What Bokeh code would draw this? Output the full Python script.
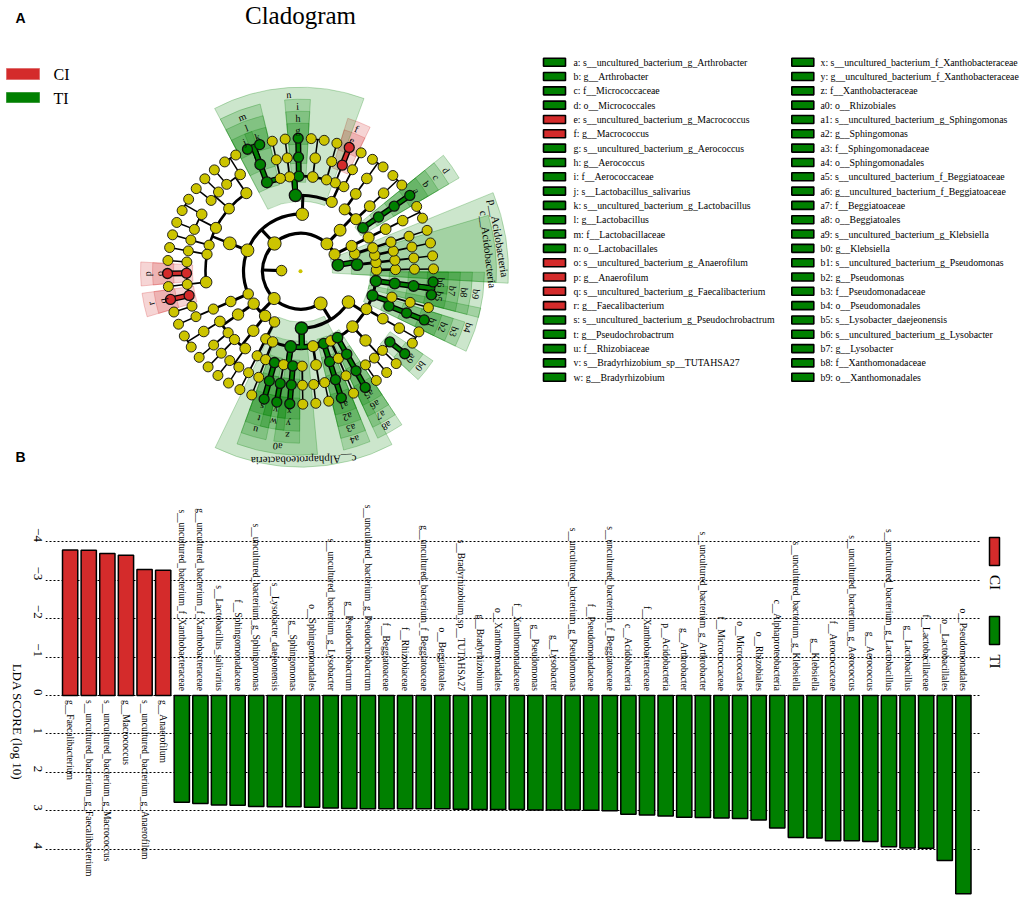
import math
from bokeh.plotting import figure
from bokeh.layouts import column, row
from bokeh.models import Range1d, FixedTicker
from bokeh.embed import file_html
from bokeh.resources import INLINE
from bokeh.core.properties import value

# ---------------- Panel B data: LDA scores ----------------
bar_names = [
    "g__Faecalibacterium", "s__uncultured_bacterium_g_Faecalibacterium",
    "s__uncultured_bacterium_g_Macrococcus", "g__Macrococcus",
    "s__uncultured_bacterium_g_Anaerofilum", "g__Anaerofilum",
    "s__uncultured_bacterium_f_Xanthobacteraceae", "g__uncultured_bacterium_f_Xanthobacteraceae",
    "s__Lactobacillus_salivarius", "f__Sphingomonadaceae",
    "s__uncultured_bacterium_g_Sphingomonas", "s__Lysobacter_daejeonensis",
    "g__Sphingomonas", "o__Sphingomonadales", "s__uncultured_bacterium_g_Lysobacter",
    "g__Pseudochrobactrum", "s__uncultured_bacterium_g_Pseudochrobactrum",
    "f__Beggiatoaceae", "f__Rhizobiaceae", "g__uncultured_bacterium_f_Beggiatoaceae",
    "o__Beggiatoales", "s__Bradyrhizobium_sp__TUTAHSA27", "g__Bradyrhizobium",
    "o__Xanthomonadales", "f__Xanthomonadaceae", "g__Pseudomonas", "g__Lysobacter",
    "s__uncultured_bacterium_g_Pseudomonas", "f__Pseudomonadaceae",
    "s__uncultured_bacterium_f_Beggiatoaceae", "c__Acidobacteria", "f__Xanthobacteraceae",
    "p__Acidobacteria", "g__Arthrobacter", "s__uncultured_bacterium_g_Arthrobacter",
    "f__Micrococcaceae", "o__Micrococcales", "o__Rhizobiales", "c__Alphaproteobacteria",
    "s__uncultured_bacterium_g_Klebsiella", "g__Klebsiella", "f__Aerococcaceae",
    "s__uncultured_bacterium_g_Aerococcus", "g__Aerococcus",
    "s__uncultured_bacterium_g_Lactobacillus", "g__Lactobacillus", "f__Lactobacillaceae",
    "o__Lactobacillales", "o__Pseudomonadales",
]
bar_lda = [
    -3.79, -3.78, -3.70, -3.65, -3.28, -3.26,
    2.78, 2.81, 2.85, 2.86, 2.89, 2.90, 2.90, 2.91, 2.93, 2.94, 2.95, 2.95, 2.95, 2.95,
    2.95, 2.96, 2.97, 2.97, 2.97, 2.98, 2.98, 2.98, 2.99, 3.00, 3.09, 3.11, 3.14, 3.17,
    3.18, 3.19, 3.20, 3.24, 3.45, 3.70, 3.71, 3.78, 3.78, 3.80, 3.94, 3.97, 3.98, 4.30, 5.16,
]
bar_group = ["CI"] * 6 + ["TI"] * 43
lda_ticks = [-4, -3, -2, -1, 0, 1, 2, 3, 4]
lda_tick_text = ["\u22124", "\u22123", "\u22122", "\u22121", "0", "1", "2", "3", "4"]
groups = ["CI", "TI"]

# ---------------- Panel A data: cladogram ----------------
legend_codes = ["a", "b", "c", "d", "e", "f", "g", "h", "i", "j", "k", "l", "m", "n", "o", "p",
                "q", "r", "s", "t", "u", "v", "w", "x", "y", "z", "a0", "a1", "a2", "a3", "a4",
                "a5", "a6", "a7", "a8", "a9", "b0", "b1", "b2", "b3", "b4", "b5", "b6", "b7",
                "b8", "b9"]
legend_names = [
    "s__uncultured_bacterium_g_Arthrobacter", "g__Arthrobacter", "f__Micrococcaceae",
    "o__Micrococcales", "s__uncultured_bacterium_g_Macrococcus", "g__Macrococcus",
    "s__uncultured_bacterium_g_Aerococcus", "g__Aerococcus", "f__Aerococcaceae",
    "s__Lactobacillus_salivarius", "s__uncultured_bacterium_g_Lactobacillus",
    "g__Lactobacillus", "f__Lactobacillaceae", "o__Lactobacillales",
    "s__uncultured_bacterium_g_Anaerofilum", "g__Anaerofilum",
    "s__uncultured_bacterium_g_Faecalibacterium", "g__Faecalibacterium",
    "s__uncultured_bacterium_g_Pseudochrobactrum", "g__Pseudochrobactrum", "f__Rhizobiaceae",
    "s__Bradyrhizobium_sp__TUTAHSA27", "g__Bradyrhizobium",
    "s__uncultured_bacterium_f_Xanthobacteraceae", "g__uncultured_bacterium_f_Xanthobacteraceae",
    "f__Xanthobacteraceae", "o__Rhizobiales", "s__uncultured_bacterium_g_Sphingomonas",
    "g__Sphingomonas", "f__Sphingomonadaceae", "o__Sphingomonadales",
    "s__uncultured_bacterium_f_Beggiatoaceae", "g__uncultured_bacterium_f_Beggiatoaceae",
    "f__Beggiatoaceae", "o__Beggiatoales", "s__uncultured_bacterium_g_Klebsiella",
    "g__Klebsiella", "s__uncultured_bacterium_g_Pseudomonas", "g__Pseudomonas",
    "f__Pseudomonadaceae", "o__Pseudomonadales", "s__Lysobacter_daejeonensis",
    "s__uncultured_bacterium_g_Lysobacter", "g__Lysobacter", "f__Xanthomonadaceae",
    "o__Xanthomonadales",
]

K = "k__Bacteria"
ACI = K + "|p__Acidobacteria"
ACT = K + "|p__Actinobacteria|c__Actinobacteria"
BAC = K + "|p__Firmicutes|c__Bacilli"
LAC = BAC + "|o__Lactobacillales"
CLO = K + "|p__Firmicutes|c__Clostridia|o__Clostridiales"
RUM = CLO + "|f__Ruminococcaceae"
BCT = K + "|p__Bacteroidetes"
ALP = K + "|p__Proteobacteria|c__Alphaproteobacteria"
RHI = ALP + "|o__Rhizobiales"
GAM = K + "|p__Proteobacteria|c__Gammaproteobacteria"
ENT = GAM + "|o__Enterobacteriales|f__Enterobacteriaceae"
clado_lineages = [
    ACI + "|c__Acidobacteria|o1|f1|g1|s1",
    ACI + "|c__Acidobacteria|o2|f1|g1|s1",
    ACI + "|c__Acidobacteria|o3|f1|g1|s1",
    ACI + "|c2|o1|f1|g1|s1",
    K + "|p__Chloroflexi|c1|o1|f1|g1|s1",
    K + "|p__Chloroflexi|c1|o1|f1|g1|s2",
    ACT + "|o__Micrococcales|f__Micrococcaceae|g__Arthrobacter|s__uncultured_bacterium_g_Arthrobacter",
    ACT + "|o2|f1|g1|s1",
    ACT + "|o2|f1|g1|s2",
    ACT + "|o3|f1|g1|s1",
    ACT + "|o3|f1|g1|s2",
    BAC + "|o__Bacillales|f__Bacillaceae|g1|s1",
    BAC + "|o__Bacillales|f__Staphylococcaceae|g__Macrococcus|s__uncultured_bacterium_g_Macrococcus",
    LAC + "|f__Streptococcaceae|g1|s1",
    LAC + "|f__Enterococcaceae|g1|s1",
    LAC + "|f__Enterococcaceae|g1|s2",
    LAC + "|f__Aerococcaceae|g__Aerococcus|s__uncultured_bacterium_g_Aerococcus",
    LAC + "|f__Carnobacteriaceae|g1|s1",
    LAC + "|f__Leuconostocaceae|g1|s1",
    LAC + "|f__Lactobacillaceae|g__Lactobacillus|s__uncultured_bacterium_g_Lactobacillus",
    LAC + "|f__Lactobacillaceae|g__Lactobacillus|s__Lactobacillus_salivarius",
    CLO + "|f__Lachnospiraceae|g1|s1",
    CLO + "|f__Lachnospiraceae|g1|s2",
    CLO + "|f__Lachnospiraceae|g2|s1",
    CLO + "|f__Peptostreptococcaceae|g1|s1",
    CLO + "|f__Peptostreptococcaceae|g2|s1",
    CLO + "|f__Clostridiaceae|g1|s1",
    CLO + "|f__Clostridiaceae|g1|s2",
    CLO + "|f__Clostridiaceae|g2|s1",
    CLO + "|f__Peptococcaceae|g1|s1",
    CLO + "|f__Family_XI|g1|s1",
    RUM + "|g1|s1",
    RUM + "|g__Anaerofilum|s__uncultured_bacterium_g_Anaerofilum",
    RUM + "|g2|s1",
    RUM + "|g__Faecalibacterium|s__uncultured_bacterium_g_Faecalibacterium",
    RUM + "|g3|s1",
    K + "|p__Firmicutes|c__Erysipelotrichia|o1|f1|g1|s1",
    BCT + "|c1|o1|f1|g1|s1",
    BCT + "|c1|o1|f1|g1|s2",
    BCT + "|c1|o1|f2|g1|s1",
    BCT + "|c2|o1|f1|g1|s1",
    BCT + "|c2|o1|f2|g1|s1",
    BCT + "|c2|o1|f2|g2|s1",
    BCT + "|c3|o1|f1|g1|s1",
    ALP + "|o1|f1|g1|s1",
    RHI + "|f__Rhizobiaceae|g__Pseudochrobactrum|s__uncultured_bacterium_g_Pseudochrobactrum",
    RHI + "|f__Bradyrhizobiaceae|g__Bradyrhizobium|s__Bradyrhizobium_sp__TUTAHSA27",
    RHI + "|f__Xanthobacteraceae|g__uncultured_bacterium_f_Xanthobacteraceae|s__uncultured_bacterium_f_Xanthobacteraceae",
    RHI + "|f__Hyphomicrobiaceae|g1|s1",
    ALP + "|o2|f1|g1|s1",
    ALP + "|o2|f1|g2|s1",
    ALP + "|o__Sphingomonadales|f__Sphingomonadaceae|g__Sphingomonas|s__uncultured_bacterium_g_Sphingomonas",
    ALP + "|o3|f1|g1|s1",
    GAM + "|o__Beggiatoales|f__Beggiatoaceae|g__uncultured_bacterium_f_Beggiatoaceae|s__uncultured_bacterium_f_Beggiatoaceae",
    ENT + "|g1|s1",
    ENT + "|g2|s1",
    ENT + "|g3|s1",
    ENT + "|g__Klebsiella|s__uncultured_bacterium_g_Klebsiella",
    GAM + "|o__Alteromonadales|f1|g1|s1",
    GAM + "|o__Alteromonadales|f1|g1|s2",
    GAM + "|o__Pseudomonadales|f__Pseudomonadaceae|g__Pseudomonas|s__uncultured_bacterium_g_Pseudomonas",
    GAM + "|o__Pseudomonadales|f__Moraxellaceae|g1|s1",
    GAM + "|o__Xanthomonadales|f__Xanthomonadaceae|g__Lysobacter|s__Lysobacter_daejeonensis",
    GAM + "|o__Xanthomonadales|f__Xanthomonadaceae|g__Lysobacter|s__uncultured_bacterium_g_Lysobacter",
]

# ---------------- styles ----------------
CI_COLOR = "#D42B2B"
TI_COLOR = "#008000"
YELLOW = "#CCC400"
GROUP_COLOR = {"CI": CI_COLOR, "TI": TI_COLOR}
SERIF = value("Liberation Serif")
SANS = value("Liberation Sans")

group_of = dict(zip(bar_names, bar_group))
code_of = dict(zip(legend_names, legend_codes))

TOP_H = 476
BOT_H = 420

# =============== Panel A (cladogram) ===============
top = figure(width=1021, height=TOP_H, x_range=Range1d(0, 1021), y_range=Range1d(-TOP_H, 0),
             output_backend="svg", toolbar_location=None, min_border=0,
             x_axis_location=None, y_axis_location=None)
top.xgrid.visible = False
top.ygrid.visible = False
top.outline_line_color = None

CX, CY = 300.0, -270.7
RSTEP = 19.0
THETA0 = 1.0

paths = [s.split("|") for s in clado_lineages]
nodes, order = {}, []
for li, parts in enumerate(paths):
    for d in range(1, len(parts) + 1):
        key = tuple(parts[:d])
        if key not in nodes:
            nodes[key] = dict(name=parts[d - 1], depth=d, leaves=[], children=[])
            order.append(key)
            if d > 1:
                nodes[key[:-1]]["children"].append(key)
        nodes[key]["leaves"].append(li)

step = 360.0 / len(paths)
for key in order:
    nd = nodes[key]
    angs = [THETA0 + step * i for i in nd["leaves"]]
    nd["t"] = sum(angs) / len(angs)
    nd["tmin"], nd["tmax"] = min(angs), max(angs)
    nd["r"] = RSTEP * nd["depth"]
    nd["grp"] = group_of.get(nd["name"])


def pol(r, t):
    a = math.radians(t)
    return CX + r * math.cos(a), CY + r * math.sin(a)


def label_r(d):
    return 141 + 12 * (7 - d)


# shaded clades
pad = step / 2 + 1.5
W = dict(x=[], y=[], ir=[], orr=[], sa=[], ea=[], c=[])
for key in order:
    nd = nodes[key]
    if nd["grp"]:
        W["x"].append(CX); W["y"].append(CY)
        W["ir"].append(nd["r"] - 6)
        W["orr"].append(label_r(nd["depth"]) + 7)
        W["sa"].append(math.radians(nd["tmin"] - pad))
        W["ea"].append(math.radians(nd["tmax"] + pad))
        W["c"].append(GROUP_COLOR[nd["grp"]])
top.annular_wedge(x="x", y="y", inner_radius="ir", outer_radius="orr", start_angle="sa",
                  end_angle="ea", fill_color="c", fill_alpha=0.2, line_color="c",
                  line_alpha=0.25, line_width=1, source=W)

# branches
LW = {2: 3.2, 3: 3.2, 4: 3.0, 5: 2.6, 6: 1.8, 7: 1.5}
S = dict(x0=[], y0=[], x1=[], y1=[], w=[])
A = dict(x=[], y=[], r=[], sa=[], ea=[], w=[])
CS = dict(x0=[], y0=[], x1=[], y1=[], c=[])
CA = dict(x=[], y=[], r=[], sa=[], ea=[], c=[])
for key in order:
    nd = nodes[key]
    if not nd["children"]:
        continue
    kids = [nodes[c] for c in nd["children"]]
    rc = kids[0]["r"]
    w = LW[kids[0]["depth"]]
    x0, y0 = pol(nd["r"], nd["t"])
    x1, y1 = pol(rc, nd["t"])
    S["x0"].append(x0); S["y0"].append(y0); S["x1"].append(x1); S["y1"].append(y1); S["w"].append(w)
    angs = [k["t"] for k in kids] + [nd["t"]]
    lo, hi = min(angs), max(angs)
    if hi - lo > 0.01:
        A["x"].append(CX); A["y"].append(CY); A["r"].append(rc)
        A["sa"].append(math.radians(lo)); A["ea"].append(math.radians(hi)); A["w"].append(w)
    for k in kids:
        if nd["grp"] and k["grp"] == nd["grp"]:
            col = GROUP_COLOR[nd["grp"]]
            CS["x0"].append(x0); CS["y0"].append(y0); CS["x1"].append(x1); CS["y1"].append(y1)
            CS["c"].append(col)
            a0, a1 = sorted([nd["t"], k["t"]])
            if a1 - a0 > 0.01:
                CA["x"].append(CX); CA["y"].append(CY); CA["r"].append(rc)
                CA["sa"].append(math.radians(a0)); CA["ea"].append(math.radians(a1))
                CA["c"].append(col)

top.segment(x0="x0", y0="y0", x1="x1", y1="y1", line_width="w", line_color="black", source=S)
top.arc(x="x", y="y", radius="r", start_angle="sa", end_angle="ea", line_width="w",
        line_color="black", source=A)
top.segment(x0="x0", y0="y0", x1="x1", y1="y1", line_width=6, line_color="black", source=CS)
top.arc(x="x", y="y", radius="r", start_angle="sa", end_angle="ea", line_width=6,
        line_color="black", source=CA)
top.segment(x0="x0", y0="y0", x1="x1", y1="y1", line_width=3.2, line_color="c", source=CS)
top.arc(x="x", y="y", radius="r", start_angle="sa", end_angle="ea", line_width=3.2,
        line_color="c", source=CA)

# nodes
BASE = {1: 7.0, 2: 10.5, 3: 10.5, 4: 10.5, 5: 10.2, 6: 10.0, 7: 10.0}
N = dict(x=[], y=[], s=[], c=[], lw=[])
for key in order:
    nd = nodes[key]
    x, y = pol(nd["r"], nd["t"])
    N["x"].append(x); N["y"].append(y)
    N["s"].append(BASE[nd["depth"]] + 0.6 * math.log2(len(nd["leaves"])))
    N["c"].append(GROUP_COLOR[nd["grp"]] if nd["grp"] else YELLOW)
    N["lw"].append(1.3 if nd["grp"] else 0.9)
top.scatter(x="x", y="y", size="s", marker="circle", fill_color="c", line_color="#111111",
            line_width="lw", source=N)
top.scatter(x=[CX], y=[CY], size=4, marker="circle", fill_color=YELLOW, line_color=None)

# clade labels
L = dict(x=[], y=[], t=[], a=[], fs=[])
for key in order:
    nd = nodes[key]
    if nd["grp"]:
        x, y = pol(label_r(nd["depth"]), nd["t"])
        txt = code_of.get(nd["name"], nd["name"])
        L["x"].append(x); L["y"].append(y); L["t"].append(txt)
        L["a"].append(math.radians(nd["t"] - 90))
        L["fs"].append("10px" if len(txt) <= 2 else "11px")
top.text(x="x", y="y", text="t", angle="a", text_font_size="fs", text_font=SERIF,
         text_align="center", text_baseline="middle", text_color="black", source=L)

# title & panel letters
top.text(x=[300], y=[-15], text=["Cladogram"], text_font=SERIF, text_font_size=value("25px"),
         text_align="center", text_baseline="middle", text_color="black")
top.text(x=[15, 15], y=[-17, -456], text=["A", "B"], text_font=SANS, text_font_style="bold",
         text_font_size=value("14px"), text_align="left", text_baseline="middle",
         text_color="black")

# CI / TI legend (top-left)
top.rect(x=[22.5, 22.5], y=[-73.5, -97], width=33, height=[11, 10],
         fill_color=[CI_COLOR, TI_COLOR], line_color=["#E07070", "#3A9A3A"], line_width=1)
top.text(x=[53, 53], y=[-74, -98], text=groups, text_font=SERIF,
         text_font_size=value("16px"), text_align="left", text_baseline="middle",
         text_color="black")

# letter legend (right, two columns)
LG = dict(rx=[], ry=[], c=[], tx=[], t=[])
half = (len(legend_codes) + 1) // 2
for i, (code, name) in enumerate(zip(legend_codes, legend_names)):
    col, rr = divmod(i, half)
    y = -(61.7 + 14.32 * rr)
    LG["rx"].append(554 + col * 248.3); LG["ry"].append(y)
    LG["c"].append(GROUP_COLOR[group_of[name]])
    LG["tx"].append(573 + col * 247)
    LG["t"].append(code + ": " + name)
top.rect(x="rx", y="ry", width=22, height=8, fill_color="c", line_color="black",
         line_width=1.6, source=LG)
top.text(x="tx", y="ry", text="t", text_font=SERIF, text_font_size=value("9.8px"),
         text_align="left", text_baseline="middle", text_color="black", source=LG)

# =============== Panel B (LDA bar chart) ===============
xs = [i + 0.5 for i in range(len(bar_names))]
plot_y = [-v for v in bar_lda]
bar_colors = [GROUP_COLOR[g] for g in bar_group]

ZERO_Y, PX_PER_UNIT = 695.0, 38.4
y_top = (ZERO_Y - TOP_H) / PX_PER_UNIT
y_bot = (TOP_H + BOT_H - ZERO_Y) / PX_PER_UNIT

bar = figure(width=954, height=BOT_H, x_range=Range1d(-0.824, 49.42),
             y_range=Range1d(-y_bot, y_top), output_backend="svg", toolbar_location=None,
             x_axis_location=None, min_border_left=17, min_border_right=0,
             min_border_top=0, min_border_bottom=0)
bar.outline_line_color = None
bar.xgrid.visible = False
bar.ygrid.ticker = FixedTicker(ticks=[-t for t in lda_ticks])
bar.ygrid.grid_line_color = "black"
bar.ygrid.grid_line_dash = "2 2"
bar.ygrid.grid_line_width = 1
bar.yaxis.ticker = FixedTicker(ticks=[-t for t in lda_ticks])
bar.yaxis.major_label_overrides = {-t: s for t, s in zip(lda_ticks, lda_tick_text)}
bar.yaxis.major_label_orientation = -math.pi / 2
bar.yaxis.axis_line_color = None
bar.yaxis.major_tick_line_color = None
bar.yaxis.minor_tick_line_color = None
bar.yaxis.major_label_standoff = 2
bar.yaxis.major_label_text_font = "Liberation Serif"
bar.yaxis.major_label_text_font_size = "13px"
bar.yaxis.major_label_text_color = "black"

bar.vbar(x=xs, top=plot_y, bottom=0, width=0.82, fill_color=bar_colors, line_color="black",
         line_width=1.5)

ti_idx = [i for i, g in enumerate(bar_group) if g == "TI"]
ci_idx = [i for i, g in enumerate(bar_group) if g == "CI"]
bar.text(x=[xs[i] for i in ti_idx], y=[0.12] * len(ti_idx), text=[bar_names[i] for i in ti_idx],
         angle=-math.pi / 2, text_align="right", text_baseline="middle", text_font=SERIF,
         text_font_size=value("9.5px"), text_color="black")
bar.text(x=[xs[i] for i in ci_idx], y=[-0.12] * len(ci_idx), text=[bar_names[i] for i in ci_idx],
         angle=-math.pi / 2, text_align="left", text_baseline="middle", text_font=SERIF,
         text_font_size=value("9.5px"), text_color="black")

# left strip: axis title
left = figure(width=26, height=BOT_H, x_range=Range1d(0, 26),
              y_range=Range1d(-(TOP_H + BOT_H), -TOP_H),
              output_backend="svg", toolbar_location=None, min_border=0,
              x_axis_location=None, y_axis_location=None)
left.xgrid.visible = False
left.ygrid.visible = False
left.outline_line_color = None
left.text(x=[17], y=[-721.5], text=["LDA SCORE (log 10)"], angle=-math.pi / 2,
          text_align="center", text_baseline="middle", text_font=SERIF,
          text_font_size=value("13px"), text_color="black")

# right strip: group legend
leg = figure(width=41, height=BOT_H, x_range=Range1d(980, 1021),
             y_range=Range1d(-(TOP_H + BOT_H), -TOP_H),
             output_backend="svg", toolbar_location=None, min_border=0,
             x_axis_location=None, y_axis_location=None)
leg.xgrid.visible = False
leg.ygrid.visible = False
leg.outline_line_color = None
leg.rect(x=[994, 994], y=[-551, -630], width=10, height=28, fill_color=[CI_COLOR, TI_COLOR],
         line_color="black", line_width=1.5)
leg.text(x=[994, 994], y=[-582, -661], text=groups, angle=-math.pi / 2, text_align="center",
         text_baseline="middle", text_font=SERIF, text_font_size=value("15px"),
         text_color="black")

layout = column(top, row(left, bar, leg))
open("out.html", "w").write(file_html(layout, INLINE))
